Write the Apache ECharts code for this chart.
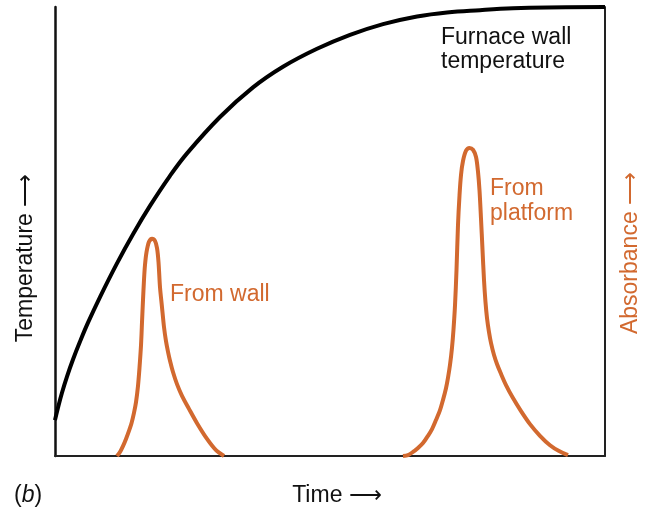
<!DOCTYPE html>
<html>
<head>
<meta charset="utf-8">
<script src="https://cdn.jsdelivr.net/npm/echarts@6/dist/echarts.min.js"></script>
<style>
  html, body { margin: 0; padding: 0; background: #fff; }
  #main { width: 647px; height: 510px; }
</style>
</head>
<body>
<div id="main"></div>
<script>
// furnace wall temperature (time, relative temperature)
const wallTime = [0, 0.55, 1.27, 2.18, 3.27, 4.55, 6.0, 8.18, 11.27, 14.18, 17.27, 20.91, 24.0, 30.0, 36.0, 41.45, 47.64, 53.64, 59.64, 65.82, 71.27, 77.27, 83.27, 89.45, 100];
const wallTemp = [8.0, 10.8, 14.1, 17.7, 21.5, 25.5, 29.7, 35.4, 42.9, 49.4, 55.7, 62.4, 67.4, 75.5, 82.1, 86.7, 90.7, 93.8, 96.2, 97.9, 98.8, 99.3, 99.7, 99.9, 100];

// absorbance peak, atomised from the wall
const peakWallTime = [11.27, 11.82, 12.36, 12.91, 13.45, 13.91, 14.36, 14.73, 15.09, 15.36, 15.64, 15.82, 16.0, 16.18, 16.36, 16.64, 17.09, 17.64,
  18.18, 18.55, 18.82, 19.09, 19.45, 19.82, 20.18, 20.55, 20.91, 21.45, 22.18, 23.09, 24.36, 25.82, 27.64, 29.27, 30.73];
const peakWallAbs = [0, 0.9, 2.2, 3.8, 5.6, 7.3, 9.6, 12.0, 15.6, 19.6, 24.7, 29.8, 34.7, 39.2, 42.5, 45.4, 47.7, 48.4,
  47.9, 46.3, 43.2, 37.6, 33.2, 28.7, 25.6, 23.2, 21.2, 18.7, 16.0, 13.4, 10.5, 7.3, 3.8, 1.3, 0];

// absorbance peak, atomised from the platform
const peakPlatTime = [63.27, 64.18, 65.09, 66.0, 66.91, 67.82, 68.55, 69.27, 70.0, 70.55, 71.09, 71.45, 71.82, 72.18, 72.45, 72.73, 73.0, 73.27, 73.55, 73.82, 74.18, 74.73, 75.36,
  76.0, 76.55, 76.91, 77.18, 77.45, 77.73, 78.0, 78.27, 78.55, 78.91, 79.27, 79.82, 80.36, 81.09, 82.0, 83.27, 84.73, 86.36, 88.18, 90.0, 91.64, 93.27];
const peakPlatAbs = [0, 0.2, 0.9, 1.8, 2.9, 4.5, 6.0, 8.0, 10.2, 12.5, 15.1, 17.4, 20.3, 24.1, 28.1, 33.6, 41.4, 51.4, 58.1, 62.6, 65.7, 68.0, 68.6,
  68.2, 66.6, 63.3, 59.2, 53.0, 45.9, 39.2, 34.3, 30.7, 27.6, 25.2, 22.5, 20.5, 18.3, 15.8, 12.9, 10.0, 7.1, 4.5, 2.4, 1.1, 0.2];

const orange = '#D2692F';
const font = '"Liberation Sans", Arial, sans-serif';

function pairs(xs, ys) {
  return xs.map((x, i) => [x, ys[i]]);
}

let myChart = echarts.init(document.getElementById('main'));
let option = {
  animation: false,
  grid: { left: 55, right: 42, top: 7, bottom: 54 },
  xAxis: {
    type: 'value', min: 0, max: 100,
    axisLine: { show: true, lineStyle: { color: '#222', width: 2 } },
    axisTick: { show: false }, axisLabel: { show: false }, splitLine: { show: false }
  },
  yAxis: [
    {
      type: 'value', min: 0, max: 100, position: 'left',
      axisLine: { show: true, lineStyle: { color: '#111', width: 2.5 } },
      axisTick: { show: false }, axisLabel: { show: false }, splitLine: { show: false }
    },
    {
      type: 'value', min: 0, max: 100, position: 'right',
      axisLine: { show: true, lineStyle: { color: '#222', width: 2 } },
      axisTick: { show: false }, axisLabel: { show: false }, splitLine: { show: false }
    }
  ],
  series: [
    {
      name: 'Furnace wall temperature', type: 'line', yAxisIndex: 0,
      data: pairs(wallTime, wallTemp), smooth: 0.4, symbol: 'none',
      lineStyle: { color: '#000', width: 4 }
    },
    {
      name: 'From wall', type: 'line', yAxisIndex: 1,
      data: pairs(peakWallTime, peakWallAbs), smooth: 0.3, symbol: 'none',
      lineStyle: { color: orange, width: 4 }
    },
    {
      name: 'From platform', type: 'line', yAxisIndex: 1,
      data: pairs(peakPlatTime, peakPlatAbs), smooth: 0.3, symbol: 'none',
      lineStyle: { color: orange, width: 4 }
    }
  ],
  graphic: [
    { type: 'text', left: 441, top: 26,
      style: { text: 'Furnace wall\ntemperature', font: '23px ' + font, fill: '#111', lineHeight: 24 } },
    { type: 'text', left: 170, top: 283,
      style: { text: 'From wall', font: '23px ' + font, fill: orange } },
    { type: 'text', left: 490, top: 176,
      style: { text: 'From\nplatform', font: '23px ' + font, fill: orange, lineHeight: 25 } },
    { type: 'text', x: 26, y: 258, rotation: Math.PI / 2,
      style: { text: 'Temperature ⟶', font: '23px ' + font, fill: '#111', align: 'center', verticalAlign: 'middle' } },
    { type: 'text', x: 631, y: 253, rotation: Math.PI / 2,
      style: { text: 'Absorbance ⟶', font: '23px ' + font, fill: orange, align: 'center', verticalAlign: 'middle' } },
    { type: 'text', x: 337, y: 496,
      style: { text: 'Time ⟶', font: '23px ' + font, fill: '#111', align: 'center', verticalAlign: 'middle' } },
    { type: 'text', x: 14, y: 496,
      style: {
        text: '({i|b})', font: '23px ' + font, fill: '#111', verticalAlign: 'middle',
        rich: { i: { fontStyle: 'italic', fontSize: 23, fontFamily: font, fill: '#111' } }
      } }
  ]
};
myChart.setOption(option);
</script>
</body>
</html>
